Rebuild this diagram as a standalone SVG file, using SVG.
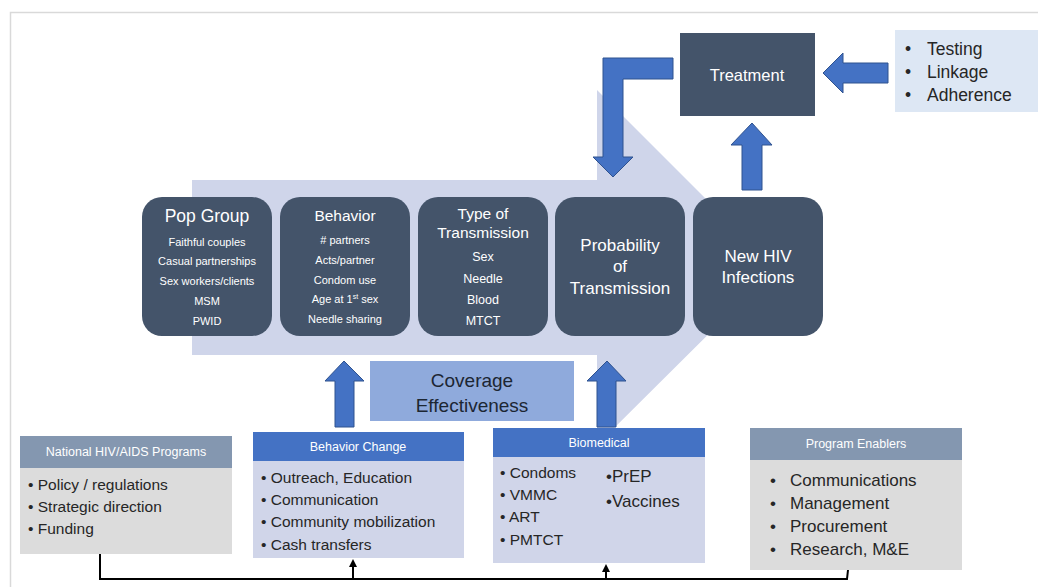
<svg xmlns="http://www.w3.org/2000/svg" width="1038" height="587" viewBox="0 0 1038 587">
<style>
.f{font-family:"Liberation Sans",Arial,sans-serif}
.dk{fill:#44546a}
.w{fill:#ffffff;text-anchor:middle}
.t{fill:#262626}
.ba{fill:#4472c4;stroke:#2f528f;stroke-width:1}
.hdr1{fill:#8497b0}
.hdr2{fill:#4472c4}
.gray{fill:#dcdcdc}
.lav{fill:#d0d5e9}
.conn{fill:none;stroke:#000;stroke-width:2}
</style>
<defs>
<marker id="ah" markerWidth="8" markerHeight="8" refX="4" refY="4" orient="auto" markerUnits="userSpaceOnUse">
<path d="M0,0 L8,4 L0,8 z" fill="#000"/>
</marker>
</defs>
<rect width="1038" height="587" fill="#ffffff"/>
<rect x="10.5" y="12.5" width="1030" height="600" fill="none" stroke="#d9d9d9" stroke-width="1.5"/>

<g id="flow-arrow">
<polygon points="192,180 597,180 597,90 775,268 597,445 597,355 192,355" fill="#cfd5ea"/>
</g>

<g id="pop-group" class="f">
<rect x="142" y="197" width="130" height="139" rx="20" class="dk"/>
<text x="207" y="222" class="w" font-size="17.5">Pop Group</text>
<text x="207" y="246" class="w" font-size="11">Faithful couples</text>
<text x="207" y="265" class="w" font-size="11">Casual partnerships</text>
<text x="207" y="285" class="w" font-size="11">Sex workers/clients</text>
<text x="207" y="305" class="w" font-size="11">MSM</text>
<text x="207" y="325" class="w" font-size="11">PWID</text>
</g>

<g id="behavior" class="f">
<rect x="280" y="197" width="130" height="139" rx="20" class="dk"/>
<text x="345" y="221" class="w" font-size="15.5">Behavior</text>
<text x="345" y="244" class="w" font-size="11">#  partners</text>
<text x="345" y="264" class="w" font-size="11">Acts/partner</text>
<text x="345" y="284" class="w" font-size="11">Condom use</text>
<text x="345" y="303" class="w" font-size="11">Age at 1<tspan font-size="7" dy="-4">st</tspan><tspan dy="4"> sex</tspan></text>
<text x="345" y="323" class="w" font-size="11">Needle sharing</text>
</g>

<g id="type-of-transmission" class="f">
<rect x="418" y="197" width="130" height="139" rx="20" class="dk"/>
<text x="483" y="219" class="w" font-size="15.5">Type of</text>
<text x="483" y="238" class="w" font-size="15.5">Transmission</text>
<text x="483" y="261" class="w" font-size="12.5">Sex</text>
<text x="483" y="283" class="w" font-size="12.5">Needle</text>
<text x="483" y="304" class="w" font-size="12.5">Blood</text>
<text x="483" y="325" class="w" font-size="12.5">MTCT</text>
</g>

<g id="probability" class="f">
<rect x="555" y="197" width="130" height="139" rx="20" class="dk"/>
<text x="620" y="251" class="w" font-size="17">Probability</text>
<text x="620" y="272" class="w" font-size="17">of</text>
<text x="620" y="294" class="w" font-size="17">Transmission</text>
</g>

<g id="new-hiv" class="f">
<rect x="693" y="197" width="130" height="139" rx="20" class="dk"/>
<text x="758" y="262" class="w" font-size="17">New HIV</text>
<text x="758" y="283" class="w" font-size="17">Infections</text>
</g>

<g id="treatment" class="f">
<rect x="680" y="33" width="135" height="83" class="dk"/>
<text x="747" y="81" class="w" font-size="16.5">Treatment</text>
</g>

<g id="testing" class="f">
<rect x="895" y="30" width="145" height="82" fill="#dde7f4"/>
<text x="905" y="55" class="t" font-size="17.5">•</text>
<text x="927" y="55" class="t" font-size="17.5">Testing</text>
<text x="905" y="78" class="t" font-size="17.5">•</text>
<text x="927" y="78" class="t" font-size="17.5">Linkage</text>
<text x="905" y="101" class="t" font-size="17.5">•</text>
<text x="927" y="101" class="t" font-size="17.5">Adherence</text>
</g>

<g id="coverage" class="f">
<rect x="370" y="361" width="204" height="60" fill="#8faadc"/>
<text x="472" y="387" font-size="19" text-anchor="middle" fill="#1c2633">Coverage</text>
<text x="472" y="412" font-size="19" text-anchor="middle" fill="#1c2633">Effectiveness</text>
</g>

<g id="national-programs" class="f">
<rect x="20" y="436" width="212" height="32" class="hdr1"/>
<rect x="20" y="468" width="212" height="86" class="gray"/>
<text x="126" y="456" class="w" font-size="12.5">National HIV/AIDS Programs</text>
<text x="28" y="490" class="t" font-size="15.5">• Policy / regulations</text>
<text x="28" y="512" class="t" font-size="15.5">• Strategic direction</text>
<text x="28" y="534" class="t" font-size="15.5">• Funding</text>
</g>

<g id="behavior-change" class="f">
<rect x="253" y="432" width="211" height="29" class="hdr2"/>
<rect x="253" y="461" width="211" height="97" class="lav"/>
<text x="358" y="451" class="w" font-size="12.5">Behavior Change</text>
<text x="261" y="483" class="t" font-size="15.5">• Outreach, Education</text>
<text x="261" y="505" class="t" font-size="15.5">• Communication</text>
<text x="261" y="527" class="t" font-size="15.5">• Community mobilization</text>
<text x="261" y="550" class="t" font-size="15.5">• Cash transfers</text>
</g>

<g id="biomedical" class="f">
<rect x="493" y="428" width="212" height="29" class="hdr2"/>
<rect x="493" y="457" width="212" height="106" class="lav"/>
<text x="599" y="447" class="w" font-size="12.5">Biomedical</text>
<text x="500" y="478" class="t" font-size="15.5">• Condoms</text>
<text x="500" y="500" class="t" font-size="15.5">• VMMC</text>
<text x="500" y="522" class="t" font-size="15.5">• ART</text>
<text x="500" y="545" class="t" font-size="15.5">• PMTCT</text>
<text x="606" y="482" class="t" font-size="17">•PrEP</text>
<text x="606" y="507" class="t" font-size="17">•Vaccines</text>
</g>

<g id="program-enablers" class="f">
<rect x="750" y="428" width="212" height="32" class="hdr1"/>
<rect x="750" y="460" width="212" height="110" class="gray"/>
<text x="856" y="448" class="w" font-size="12.5">Program Enablers</text>
<text x="770" y="486" class="t" font-size="17">•</text>
<text x="790" y="486" class="t" font-size="17">Communications</text>
<text x="770" y="509" class="t" font-size="17">•</text>
<text x="790" y="509" class="t" font-size="17">Management</text>
<text x="770" y="532" class="t" font-size="17">•</text>
<text x="790" y="532" class="t" font-size="17">Procurement</text>
<text x="770" y="555" class="t" font-size="17">•</text>
<text x="790" y="555" class="t" font-size="17">Research, M&amp;E</text>
</g>

<g id="connectors">
<polygon class="ba" points="673,58 603,58 603,157 593,157 613,177 633,157 623,157 623,79 673,79"/>
<polygon class="ba" points="823,73 843,53 843,63 888,63 888,83 843,83 843,93"/>
<polygon class="ba" points="752,123 772,145 762,145 762,190 742,190 742,145 731,145"/>
<polygon class="ba" points="344,361 364,381 354,381 354,427 335,427 335,381 325,381"/>
<polygon class="ba" points="607,361 626,381 616,381 616,427 597,427 597,381 587,381"/>
<path class="conn" d="M100,554 V579 H847 L848,570"/>
<line class="conn" x1="353" y1="579" x2="353" y2="563" marker-end="url(#ah)"/>
<line class="conn" x1="606" y1="579" x2="606" y2="568" marker-end="url(#ah)"/>
</g>
</svg>
